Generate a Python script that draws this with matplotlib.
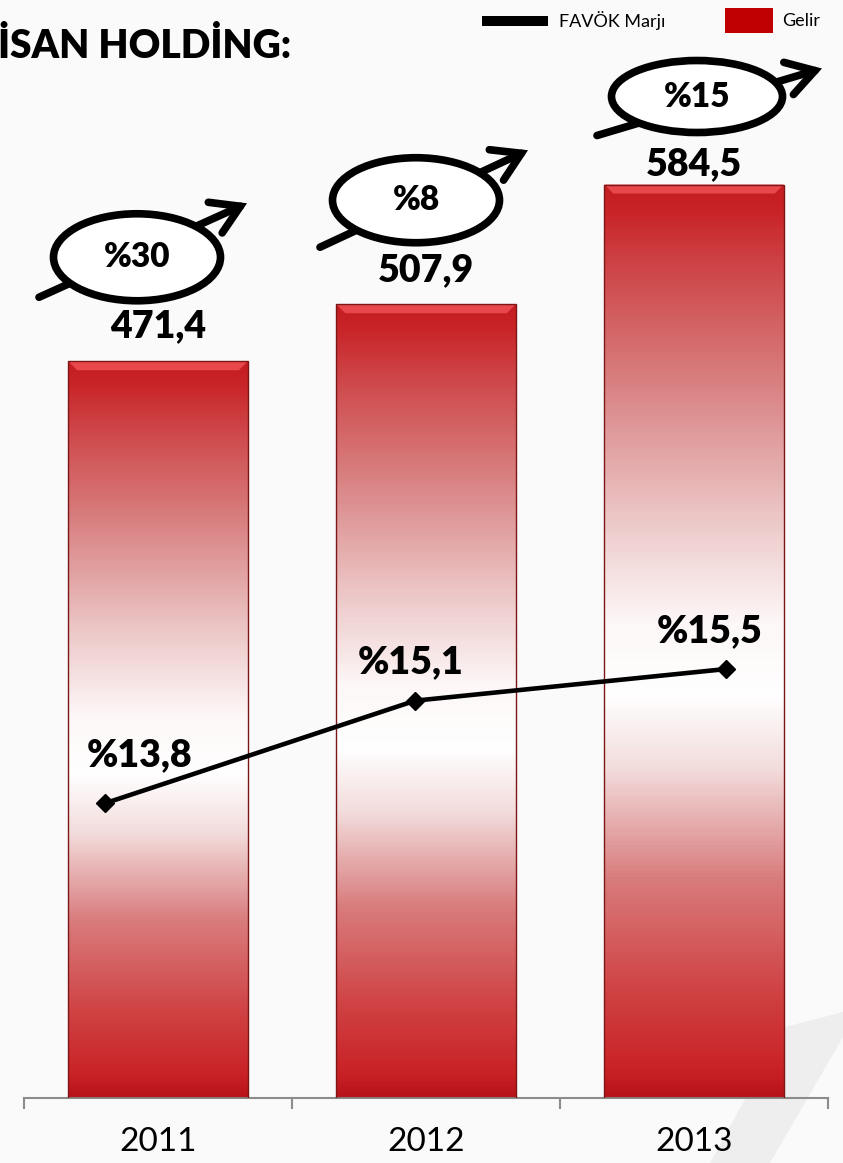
import numpy as np
import matplotlib.pyplot as plt
from matplotlib.colors import LinearSegmentedColormap
from matplotlib.patches import Ellipse, Rectangle, Polygon
from matplotlib.lines import Line2D

# DATA
years = ["2011", "2012", "2013"]
gelir = [471.4, 507.9, 584.5]
gelir_labels = ["471,4", "507,9", "584,5"]
favok_marji = [13.8, 15.1, 15.5]
favok_labels = ["%13,8", "%15,1", "%15,5"]
buyume_labels = ["%30", "%8", "%15"]

# LAYOUT (pixels)
W, H = 843, 1163
AX_LEFT, AX_RIGHT, AX_BOTTOM, AX_TOP = 24, 828, 1098, 4
Y_MAX = 700
LINE_XLIM = (-0.26, 2.33)
LINE_YLIM = (10.07, 23.92)
value_label_dy = [35, 34, 20]
line_label_off = [(35, 48), (-5, 39), (-16, 38)]
ellipse_off = [(-21, 104), (-10, 104), (3, 88)]
ellipse_size = [(167, 87), (167, 85), (171, 72)]
arrow_start = [(-98, -40), (-96, -47), (-100, -39)]
arrow_end = [(110, 54), (112, 50), (125, 28)]

FONT = "Lato"
BOLD = "heavy"
plt.rcParams["font.family"] = [FONT, "DejaVu Sans"]

fig = plt.figure(figsize=(W / 100, H / 100), dpi=100, facecolor="#fafafa")

# faint watermark wedge bottom right
wedge = [(710, 1163), (785, 1027), (843, 1012), (843, 1037), (770, 1163)]
fig.add_artist(Polygon([(px / W, 1 - py / H) for px, py in wedge],
                       closed=True, transform=fig.transFigure,
                       facecolor="#eeeeee", edgecolor="none", zorder=0))

rect = [AX_LEFT / W, (H - AX_BOTTOM) / H, (AX_RIGHT - AX_LEFT) / W, (AX_BOTTOM - AX_TOP) / H]
ax = fig.add_axes(rect)
ax.set_facecolor("none")

px_x = 3.0 / (AX_RIGHT - AX_LEFT)
px_y = Y_MAX / (AX_BOTTOM - AX_TOP)

# bars with red-white-red gradient
cmap = LinearSegmentedColormap.from_list("bar", [
    (0.0, "#b8121a"), (0.03, "#c92226"), (0.12, "#d04445"),
    (0.24, "#d97c7d"), (0.36, "#f3dcdc"), (0.44, "#ffffff"),
    (0.52, "#fdf7f7"), (0.64, "#ecc5c5"), (0.78, "#d98283"),
    (0.90, "#cf4a4c"), (0.97, "#c92529"), (1.0, "#c41c22")])
grad = np.linspace(0, 1, 256).reshape(-1, 1)

x = np.arange(len(years))
bars = ax.bar(x, gelir, width=0.67, color="none", edgecolor="#7d1616",
              linewidth=1.0, zorder=3)
for b in bars:
    x0, w, h = b.get_x(), b.get_width(), b.get_height()
    im = ax.imshow(grad, cmap=cmap, aspect="auto", origin="lower",
                   extent=(x0, x0 + w, 0, h), zorder=2)
    im.set_clip_path(b)
    # top bevel highlight
    bx, by = 9 * px_x, 9 * px_y
    ax.add_patch(Polygon([(x0, h), (x0 + w, h), (x0 + w - bx, h - by), (x0 + bx, h - by)],
                         closed=True, facecolor="#e8474b", edgecolor="none", zorder=2.5))

ax.set_xlim(-0.5, 2.5)
ax.set_ylim(0, Y_MAX)

for s in ["left", "right", "top"]:
    ax.spines[s].set_visible(False)
ax.spines["bottom"].set_color("#8c8c8c")
ax.spines["bottom"].set_linewidth(1.5)
ax.set_yticks([])
ax.set_xticks([-0.5, 0.5, 1.5, 2.5])
ax.set_xticklabels([])
ax.tick_params(axis="x", which="major", length=8, width=1.5, color="#8c8c8c")
ax.set_xticks(x, minor=True)
ax.set_xticklabels(years, minor=True, fontsize=24, color="black")
ax.tick_params(axis="x", which="minor", length=0, pad=21)

# value labels
for i, v in enumerate(gelir):
    ax.annotate(gelir_labels[i], (x[i], v), xytext=(0, value_label_dy[i]),
                textcoords="offset pixels", ha="center", va="center",
                fontsize=27, fontweight=BOLD, zorder=9)

# growth ellipses with arrows
for i, v in enumerate(gelir):
    cx = x[i] + ellipse_off[i][0] * px_x
    cy = v + ellipse_off[i][1] * px_y
    sx, sy = arrow_start[i]
    ex, ey = arrow_end[i]
    ax.annotate("", xy=(cx + ex * px_x, cy + ey * px_y),
                xytext=(cx + sx * px_x, cy + sy * px_y),
                arrowprops=dict(arrowstyle="->,head_length=0.9,head_width=0.55",
                                lw=5.5, color="black", shrinkA=0, shrinkB=0,
                                mutation_scale=22, joinstyle="miter"),
                zorder=6)
    ax.add_patch(Ellipse((cx, cy), ellipse_size[i][0] * px_x, ellipse_size[i][1] * px_y,
                         facecolor="white", edgecolor="black", linewidth=5.5, zorder=7))
    ax.text(cx, cy, buyume_labels[i], ha="center", va="center",
            fontsize=24, fontweight=BOLD, zorder=8)

# FAVÖK margin line on its own scales
ax2 = fig.add_axes(rect)
ax2.set_facecolor("none")
ax2.axis("off")
ax2.plot(x, favok_marji, color="black", linewidth=3.3, marker="D",
         markersize=9, zorder=5)
ax2.set_xlim(*LINE_XLIM)
ax2.set_ylim(*LINE_YLIM)
for i, v in enumerate(favok_marji):
    ax2.annotate(favok_labels[i], (x[i], v), xytext=line_label_off[i],
                 textcoords="offset pixels", ha="center", va="center",
                 fontsize=27, fontweight=BOLD)

# title (cut at left edge as in the slide)
fig.text(-0.002, 1 - 47 / H, "İSAN HOLDİNG:", fontsize=28, fontweight=BOLD,
         ha="left", va="center")

# legend
fig.add_artist(Line2D([482 / W, 548 / W], [1 - 21 / H, 1 - 21 / H], color="black",
                      linewidth=7.2, solid_capstyle="butt", transform=fig.transFigure))
fig.text(559 / W, 1 - 21 / H, "FAVÖK Marjı", fontsize=13, ha="left", va="center")
fig.add_artist(Rectangle((725 / W, 1 - 33 / H), 48 / W, 25 / H, facecolor="#c00000",
                         edgecolor="none", transform=fig.transFigure))
fig.text(782 / W, 1 - 21 / H, "Gelir", fontsize=13, ha="left", va="center")

fig.savefig("out.png", dpi=100, facecolor=fig.get_facecolor())
